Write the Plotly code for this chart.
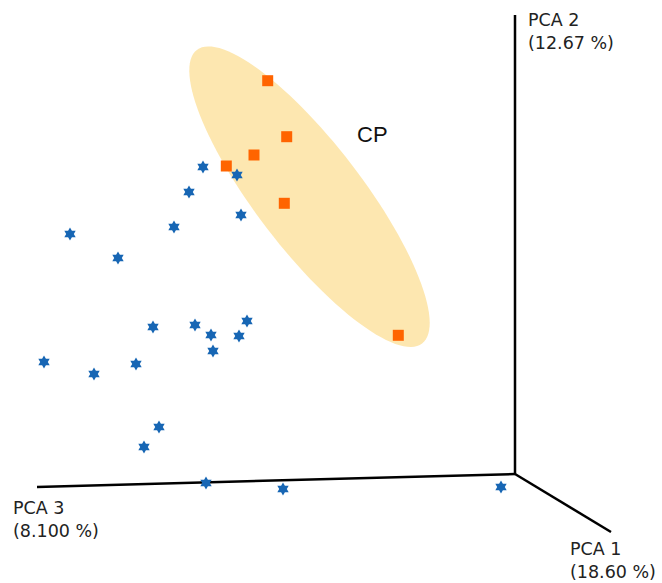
import numpy as np
import plotly.graph_objects as go

# Sample scores projected onto the drawing plane (pixel-like units)
other_x = [203, 237, 189, 241, 174, 70, 118, 247, 153, 195, 211, 239, 213, 44, 94, 136, 159, 144, 206, 283, 501]
other_y = [167, 175, 192, 215, 227, 234, 258, 321, 327, 325, 335, 336, 351, 362, 374, 364, 427, 447, 483, 489, 487]
cp_x = [267.7, 286.7, 254, 226.3, 284.3, 398.3]
cp_y = [80.7, 136.7, 155, 166, 203.3, 335.3]

# Axis geometry (origin and end points of the three PCA axes)
origin = (515, 474)
axis_ends = {"PCA 2": (515, 15), "PCA 3": (37, 487), "PCA 1": (611, 532)}
axis_labels = {
    "PCA 2": "PCA 2<br>(12.67 %)",
    "PCA 3": "PCA 3<br>(8.100 %)",
    "PCA 1": "PCA 1<br>(18.60 %)",
}
label_pos = {"PCA 2": (526, 8), "PCA 3": (11, 496), "PCA 1": (568, 537)}

# Confidence ellipse for CP group
ell_center = (309.5, 196.7)
ell_a, ell_b, ell_angle = 185, 53, 52.5

fig = go.Figure()

t = np.linspace(0, 2 * np.pi, 121)
th = np.deg2rad(ell_angle)
ex = ell_center[0] + ell_a * np.cos(t) * np.cos(th) - ell_b * np.sin(t) * np.sin(th)
ey = ell_center[1] + ell_a * np.cos(t) * np.sin(th) + ell_b * np.sin(t) * np.cos(th)
path = "M " + " L ".join(f"{x:.2f},{y:.2f}" for x, y in zip(ex, ey)) + " Z"
fig.add_shape(type="path", path=path, fillcolor="#FDE7B0", line=dict(width=0), layer="below")

for name, (xe, ye) in axis_ends.items():
    fig.add_trace(go.Scatter(x=[origin[0], xe], y=[origin[1], ye], mode="lines",
                             line=dict(color="black", width=2.5), hoverinfo="skip", showlegend=False))

fig.add_trace(go.Scatter(x=other_x, y=other_y, mode="markers",
                         marker=dict(symbol="hexagram", size=10, color="#1766B4",
                                     line=dict(width=0)),
                         showlegend=False))
fig.add_trace(go.Scatter(x=cp_x, y=cp_y, mode="markers",
                         marker=dict(symbol="square", size=11, color="#FF6400",
                                     line=dict(width=0)),
                         showlegend=False))

for name, txt in axis_labels.items():
    lx, ly = label_pos[name]
    fig.add_annotation(x=lx, y=ly, text=txt, showarrow=False, xanchor="left", yanchor="top",
                       align="left", font=dict(family="DejaVu Sans", size=17.5, color="#222222"))

fig.add_annotation(x=372, y=134, text="CP", showarrow=False, xanchor="center", yanchor="middle",
                   font=dict(family="Liberation Sans", size=22, color="#111111"))

fig.update_layout(
    width=662, height=583, margin=dict(l=0, r=0, t=0, b=0),
    paper_bgcolor="white", plot_bgcolor="white",
    xaxis=dict(range=[0, 662], visible=False, fixedrange=True),
    yaxis=dict(range=[583, 0], visible=False, fixedrange=True),
)

fig.write_html("out.html")
